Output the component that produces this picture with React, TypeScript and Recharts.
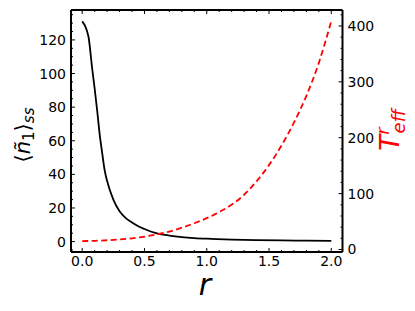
import React from 'react';
import { LineChart, Line, XAxis, YAxis } from 'recharts';

const nR = [0, 0.05, 0.08, 0.1, 0.12, 0.14, 0.16, 0.18, 0.2, 0.25, 0.3, 0.35, 0.4, 0.45, 0.5, 0.6, 0.7, 0.8, 0.9, 1.0, 1.2, 1.4, 1.6, 1.8, 2.0];
const nVals = [131, 122, 103, 91, 78, 64, 53, 42.5, 36, 25, 18, 14, 11.3, 9.1, 7.5, 4.9, 3.6, 2.7, 2.1, 1.7, 1.2, 0.9, 0.7, 0.55, 0.45];

const tR = [0, 0.1, 0.2, 0.3, 0.4, 0.5, 0.6, 0.7, 0.8, 0.9, 1.0, 1.1, 1.2, 1.3, 1.4, 1.5, 1.6, 1.7, 1.8, 1.9, 2.0];
const tVals = [15, 15.5, 16.5, 18, 20, 23, 27, 32, 39, 47, 56, 67, 80, 98, 122, 151, 186, 227, 275, 334, 409];

const xTicks = [0, 0.1, 0.2, 0.3, 0.4, 0.5, 0.6, 0.7, 0.8, 0.9, 1.0, 1.1, 1.2, 1.3, 1.4, 1.5, 1.6, 1.7, 1.8, 1.9, 2.0];
const xLabels = [0, 0.5, 1.0, 1.5, 2.0];
const leftTicks = [-5, 0, 5, 10, 15, 20, 25, 30, 35, 40, 45, 50, 55, 60, 65, 70, 75, 80, 85, 90, 95, 100, 105, 110, 115, 120, 125, 130, 135];
const leftLabels = [0, 20, 40, 60, 80, 100, 120];
const rightTicks = [0, 20, 40, 60, 80, 100, 120, 140, 160, 180, 200, 220, 240, 260, 280, 300, 320, 340, 360, 380, 400, 420];
const rightLabels = [0, 100, 200, 300, 400];

const blackData = nR.map((r, i) => ({ r, v: nVals[i] }));
const redData = tR.map((r, i) => ({ r, t: tVals[i] }));

const FONT = 'DejaVu Sans';
const MAJ = 4;
const MIN = 2;

const isIn = (arr: number[], v: number) => arr.some((a) => Math.abs(a - v) < 1e-9);

const LeftTick = (p: any) => {
  const v = p.payload.value;
  const major = isIn(leftLabels, v);
  return (
    <g>
      <line x1={p.x} x2={p.x + (major ? MAJ : MIN)} y1={p.y} y2={p.y} stroke="#000" strokeWidth={1} />
      {major && (
        <text x={p.x - 5} y={p.y} textAnchor="end" dominantBaseline="central" fontFamily={FONT} fontSize={14} fill="#000">
          {v}
        </text>
      )}
    </g>
  );
};

const RightTick = (p: any) => {
  const v = p.payload.value;
  const major = isIn(rightLabels, v);
  return (
    <g>
      <line x1={p.x} x2={p.x - (major ? MAJ : MIN)} y1={p.y} y2={p.y} stroke="#000" strokeWidth={1} />
      {major && (
        <text x={p.x + 5} y={p.y} textAnchor="start" dominantBaseline="central" fontFamily={FONT} fontSize={14} fill="#000">
          {v}
        </text>
      )}
    </g>
  );
};

const BottomTick = (p: any) => {
  const v = p.payload.value;
  const major = isIn(xLabels, v);
  return (
    <g>
      <line x1={p.x} x2={p.x} y1={p.y} y2={p.y - (major ? MAJ : MIN)} stroke="#000" strokeWidth={1} />
      {major && (
        <text x={p.x} y={p.y + 4} textAnchor="middle" dominantBaseline="hanging" fontFamily={FONT} fontSize={14} fill="#000">
          {v.toFixed(1)}
        </text>
      )}
    </g>
  );
};

const TopTick = (p: any) => {
  const v = p.payload.value;
  const major = isIn(xLabels, v);
  return (
    <g>
      <line x1={p.x} x2={p.x} y1={p.y} y2={p.y + (major ? MAJ : MIN)} stroke="#000" strokeWidth={1} />
    </g>
  );
};

export default function App() {
  return (
    <div style={{ position: 'relative', width: 400, height: 300 }}>
      <LineChart width={400} height={300} margin={{ top: 1, right: 0, left: 0, bottom: 0 }}>
        <XAxis
          xAxisId="bottom"
          dataKey="r"
          type="number"
          domain={[-0.09, 2.09]}
          ticks={xTicks}
          interval={0}
          height={56}
          tickSize={0}
          tickMargin={0}
          tick={BottomTick}
          axisLine={{ stroke: '#000', strokeWidth: 2 }}
          allowDataOverflow
        />
        <XAxis
          xAxisId="top"
          orientation="top"
          dataKey="r"
          type="number"
          domain={[-0.09, 2.09]}
          ticks={xTicks}
          interval={0}
          height={1}
          tickSize={0}
          tickMargin={0}
          tick={TopTick}
          axisLine={{ stroke: '#000', strokeWidth: 2 }}
          allowDataOverflow
        />
        <YAxis
          yAxisId="left"
          type="number"
          domain={[-6.2, 137.8]}
          ticks={leftTicks}
          interval={0}
          width={63}
          tickSize={0}
          tickMargin={0}
          tick={LeftTick}
          axisLine={{ stroke: '#000', strokeWidth: 2 }}
          allowDataOverflow
        />
        <YAxis
          yAxisId="right"
          orientation="right"
          type="number"
          domain={[-4.5, 428.6]}
          ticks={rightTicks}
          interval={0}
          width={65.5}
          tickSize={0}
          tickMargin={0}
          tick={RightTick}
          axisLine={{ stroke: '#000', strokeWidth: 2 }}
          allowDataOverflow
        />
        <Line
          xAxisId="bottom"
          yAxisId="left"
          data={blackData}
          dataKey="v"
          type="monotone"
          stroke="#000"
          strokeWidth={1.8}
          dot={false}
          isAnimationActive={false}
        />
        <Line
          xAxisId="top"
          yAxisId="right"
          data={redData}
          dataKey="t"
          type="monotone"
          stroke="#ff0000"
          strokeWidth={1.8}
          strokeDasharray="6 3.5"
          dot={false}
          isAnimationActive={false}
        />
      </LineChart>
      <svg width={400} height={300} style={{ position: 'absolute', left: 0, top: 0, pointerEvents: 'none' }}>
        <text
          transform="translate(22,127) rotate(-90)"
          textAnchor="middle"
          fontFamily={FONT}
          fontSize={21}
          fill="#000"
        >
          <tspan>⟨</tspan>
          <tspan fontStyle="italic">ñ</tspan>
          <tspan fontSize={15} dy={4}>1</tspan>
          <tspan dy={-4}>⟩</tspan>
          <tspan fontSize={15} dy={4} fontStyle="italic">ss</tspan>
        </text>
        <text
          transform="translate(391,122) rotate(-90)"
          textAnchor="middle"
          fontFamily={FONT}
          fontSize={26}
          fill="#ff0000"
        >
          <tspan fontStyle="italic">T</tspan>
          <tspan fontStyle="italic" fontSize={18} dy={-10}>r</tspan>
          <tspan fontStyle="italic" fontSize={18} dx={-6} dy={16}>eff</tspan>
        </text>
        <text x={197} y={287} textAnchor="middle" fontFamily={FONT} fontSize={30} fontStyle="italic" fill="#000">
          r
        </text>
      </svg>
    </div>
  );
}
